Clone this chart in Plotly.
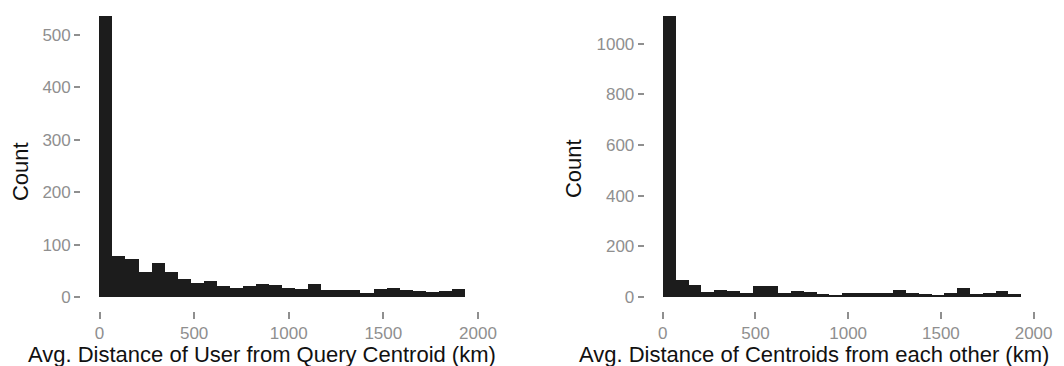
import plotly.graph_objects as go

# histogram bins (km), width 69
bin_starts = [0, 69, 138, 207, 276, 345, 414, 483, 552, 621, 690, 759, 828, 897,
              966, 1035, 1104, 1173, 1242, 1311, 1380, 1449, 1518, 1587, 1656, 1725, 1794, 1863]
bin_width = 69

user_counts = [536, 78, 73, 48, 64, 48, 34, 26, 30, 20, 17, 21, 24, 22,
               17, 15, 24, 13, 14, 14, 7, 16, 17, 14, 12, 10, 12, 15]
centroid_counts = [1109, 65, 46, 20, 28, 23, 17, 42, 42, 14, 24, 20, 13, 8,
                   17, 16, 15, 16, 29, 14, 12, 6, 14, 34, 13, 14, 23, 13]

left_yticks = [0, 100, 200, 300, 400, 500]
right_yticks = [0, 200, 400, 600, 800, 1000]
xticks = [0, 500, 1000, 1500, 2000]

W, H = 1064, 366
PW = 1049  # width the paper actually gets drawn at in the viewer
bar_color = "#1c1c1c"
tick_color = "#8f8f8f"
font_name = "Liberation Sans, Arial, sans-serif"

fig = go.Figure()
fig.add_trace(go.Bar(x=bin_starts, y=user_counts, width=bin_width, offset=0,
                     marker=dict(color=bar_color, line=dict(width=0)),
                     xaxis="x", yaxis="y", showlegend=False))
fig.add_trace(go.Bar(x=bin_starts, y=centroid_counts, width=bin_width, offset=0,
                     marker=dict(color=bar_color, line=dict(width=0)),
                     xaxis="x2", yaxis="y2", showlegend=False))

ax_common = dict(showgrid=False, zeroline=False, showline=False, ticks="outside",
                 tickcolor=tick_color, tickwidth=1.5,
                 tickfont=dict(size=17, color=tick_color, family=font_name))
ydom = [1 - 311 / H, 1 - 2 / H]

fig.update_layout(
    width=W, height=H,
    margin=dict(l=0, r=0, t=0, b=0),
    paper_bgcolor="white", plot_bgcolor="white",
    bargap=0,
    xaxis=dict(domain=[81 / PW, 482.5 / PW], range=[-97, 2029], tickvals=xticks,
               ticklen=7, anchor="y", **ax_common),
    yaxis=dict(domain=ydom, range=[-26.8, 562.8], tickvals=left_yticks,
               ticklen=6, anchor="x", **ax_common),
    xaxis2=dict(domain=[643.5 / PW, 1037 / PW], range=[-97, 2029], tickvals=xticks,
                ticklen=7, anchor="y2", **ax_common),
    yaxis2=dict(domain=ydom, range=[-55.5, 1164.5], tickvals=right_yticks,
                ticklen=6, anchor="x2", **ax_common),
)

title_font = dict(size=22, color="#111111", family=font_name)
fig.add_annotation(text="Count", x=20 / PW, y=1 - 172 / H, xref="paper", yref="paper",
                   textangle=-90, showarrow=False, font=title_font,
                   xanchor="center", yanchor="middle")
fig.add_annotation(text="Count", x=573 / PW, y=1 - 169 / H, xref="paper", yref="paper",
                   textangle=-90, showarrow=False, font=title_font,
                   xanchor="center", yanchor="middle")
fig.add_annotation(text="Avg. Distance of User from Query Centroid (km)",
                   x=261.5 / PW, y=1 - 354 / H, xref="paper", yref="paper",
                   showarrow=False, font=title_font, xanchor="center", yanchor="middle")
fig.add_annotation(text="Avg. Distance of Centroids from each other (km)",
                   x=812 / PW, y=1 - 354 / H, xref="paper", yref="paper",
                   showarrow=False, font=title_font, xanchor="center", yanchor="middle")

fig.write_html(
    "out.html",
    config={"responsive": False, "displayModeBar": False},
    post_script="document.body.style.margin='0';document.body.style.overflow='hidden';",
)
